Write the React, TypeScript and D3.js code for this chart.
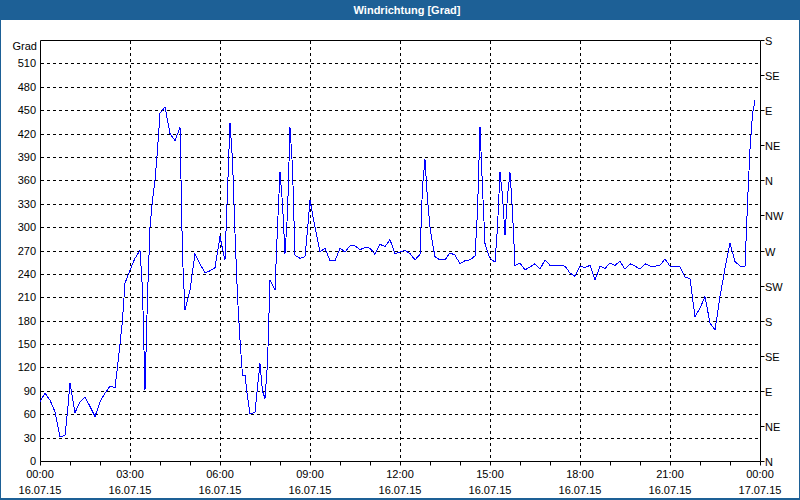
import * as d3 from "d3"
import { useEffect, useRef } from "react"

const FRAME_BLUE = "#1d6096"
const LINE_BLUE = "#0000ff"
const FONT = "'Liberation Sans', Arial, sans-serif"
const W = 800
const H = 500
const margin = { top: 40, right: 40, bottom: 39, left: 40 }

// minutes since 16.07.15 00:00
const times = [
  0, 10, 20, 30, 40, 50, 55, 60, 70, 80, 90, 100, 110, 120, 130, 140, 150, 155, 160, 165,
  170, 180, 190, 200, 205, 210, 215, 220, 225, 230, 235, 240, 250, 260, 270, 280, 285, 290, 300, 310,
  320, 330, 340, 350, 360, 365, 370, 375, 380, 385, 390, 395, 400, 405, 410, 415, 420, 430, 435, 440,
  445, 450, 455, 460, 470, 475, 480, 485, 490, 495, 500, 505, 510, 520, 530, 535, 540, 545, 550, 560,
  570, 580, 590, 600, 610, 620, 630, 640, 650, 660, 670, 680, 690, 700, 710, 720, 730, 740, 750, 760,
  765, 770, 775, 780, 785, 790, 800, 810, 820, 830, 840, 850, 860, 870, 875, 880, 885, 890, 895, 900,
  910, 915, 920, 925, 930, 935, 940, 945, 950, 960, 970, 980, 990, 1000, 1010, 1020, 1030, 1040, 1050, 1060,
  1070, 1080, 1090, 1100, 1110, 1120, 1130, 1140, 1150, 1160, 1170, 1180, 1190, 1200, 1210, 1220, 1230, 1240, 1250, 1260,
  1270, 1280, 1290, 1300, 1310, 1320, 1330, 1340, 1350, 1360, 1370, 1380, 1390, 1400, 1410, 1415, 1420, 1425, 1430,
]

const direction = [
  76, 87, 78, 63, 31, 33, 63, 100, 62, 76, 82, 70, 57, 76, 87, 96, 94, 121, 150, 181,
  228, 245, 260, 270, 219, 91, 211, 300, 335, 360, 399, 446, 454, 420, 411, 428, 262, 194, 219, 266,
  253, 241, 244, 248, 288, 272, 258, 347, 434, 386, 292, 211, 155, 110, 110, 82, 61, 62, 95, 125,
  90, 80, 125, 232, 219, 300, 371, 330, 266, 317, 428, 377, 264, 260, 262, 296, 335, 317, 300, 268,
  273, 257, 257, 273, 268, 276, 276, 271, 274, 273, 265, 278, 275, 284, 266, 268, 270, 266, 258, 265,
  352, 387, 335, 300, 279, 262, 258, 258, 267, 264, 253, 257, 258, 263, 320, 429, 350, 279, 268, 260,
  255, 300, 371, 340, 290, 340, 370, 320, 251, 254, 245, 249, 253, 246, 258, 251, 251, 251, 250, 241,
  237, 250, 248, 251, 232, 250, 247, 254, 251, 256, 246, 253, 250, 246, 253, 250, 250, 251, 259, 250,
  250, 249, 236, 234, 185, 196, 211, 177, 168, 211, 247, 279, 256, 250, 249, 330, 400, 445, 463,
]

const hourLabels = ["00:00", "03:00", "06:00", "09:00", "12:00", "15:00", "18:00", "21:00", "00:00"]
const dateLabels = ["16.07.15", "16.07.15", "16.07.15", "16.07.15", "16.07.15", "16.07.15", "16.07.15", "16.07.15", "17.07.15"]
const compassLabels = ["N", "NE", "E", "SE", "S", "SW", "W", "NW", "N", "NE", "E", "SE", "S"]

export default function App() {
  const svgRef = useRef<SVGSVGElement | null>(null)

  useEffect(() => {
    if (!svgRef.current) return
    const svg = d3.select(svgRef.current)
    svg.selectAll("*").remove()

    const x0 = margin.left
    const x1 = W - margin.right
    const y0 = H - margin.bottom
    const y1 = margin.top

    const x = d3.scaleLinear().domain([0, 1440]).range([x0, x1])
    const y = d3.scaleLinear().domain([0, 540]).range([y0, y1])

    // background + frame
    svg.append("rect").attr("width", W).attr("height", H).attr("fill", "#fff")
    svg.append("rect").attr("width", W).attr("height", 20).attr("fill", FRAME_BLUE)
    svg
      .append("rect")
      .attr("x", 0.5)
      .attr("y", 0.5)
      .attr("width", W - 1)
      .attr("height", H - 1.5)
      .attr("fill", "none")
      .attr("stroke", FRAME_BLUE)
    svg.append("rect").attr("x", 0).attr("y", H - 2).attr("width", W).attr("height", 2).attr("fill", FRAME_BLUE)

    svg
      .append("text")
      .attr("x", 407)
      .attr("y", 14)
      .attr("text-anchor", "middle")
      .style("font-family", FONT)
      .style("font-size", "11px")
      .style("font-weight", "bold")
      .style("fill", "#fff")
      .text("Windrichtung [Grad]")

    const crisp = (v: number) => Math.round(v) + 0.5

    // horizontal grid
    const yTicks = d3.range(30, 540, 30)
    svg
      .append("g")
      .selectAll("line")
      .data(yTicks)
      .enter()
      .append("line")
      .attr("x1", x0 + 1)
      .attr("x2", x1)
      .attr("y1", (d) => crisp(y(d)))
      .attr("y2", (d) => crisp(y(d)))
      .attr("stroke", "#000")
      .attr("stroke-dasharray", "3,3")

    // vertical grid
    const xMajor = d3.range(0, 1441, 180)
    svg
      .append("g")
      .selectAll("line")
      .data(xMajor.slice(1, -1))
      .enter()
      .append("line")
      .attr("x1", (d) => crisp(x(d)))
      .attr("x2", (d) => crisp(x(d)))
      .attr("y1", y1 + 1)
      .attr("y2", y0)
      .attr("stroke", "#000")
      .attr("stroke-dasharray", "3,3")

    // frame lines of the plot
    svg
      .append("path")
      .attr("d", `M${crisp(x0)},${crisp(y1)}H${crisp(x1)}V${crisp(y0)}H${crisp(x0)}Z`)
      .attr("fill", "none")
      .attr("stroke", "#000")

    // left labels
    const lbl = svg.append("g").style("font-family", FONT).style("font-size", "11px").style("fill", "#000")
    lbl
      .selectAll("text.yl")
      .data(d3.range(0, 540, 30))
      .enter()
      .append("text")
      .attr("x", 36)
      .attr("y", (d) => y(d) + 4)
      .attr("text-anchor", "end")
      .text((d) => String(d))
    lbl.append("text").attr("x", 37).attr("y", 50).attr("text-anchor", "end").text("Grad")

    // right compass axis
    const compassVals = d3.range(0, 541, 45)
    svg
      .append("g")
      .selectAll("line")
      .data(compassVals)
      .enter()
      .append("line")
      .attr("x1", crisp(x1))
      .attr("x2", crisp(x1) + 4)
      .attr("y1", (d) => crisp(y(d)))
      .attr("y2", (d) => crisp(y(d)))
      .attr("stroke", "#000")
    lbl
      .selectAll("text.rl")
      .data(compassVals)
      .enter()
      .append("text")
      .attr("x", x1 + 5)
      .attr("y", (d) => y(d) + 5)
      .text((_, i) => compassLabels[i])

    // bottom ticks every hour
    svg
      .append("g")
      .selectAll("line")
      .data(d3.range(0, 1441, 60))
      .enter()
      .append("line")
      .attr("x1", (d) => crisp(x(d)))
      .attr("x2", (d) => crisp(x(d)))
      .attr("y1", crisp(y0))
      .attr("y2", crisp(y0) + 4)
      .attr("stroke", "#000")

    lbl
      .selectAll("text.xl")
      .data(xMajor)
      .enter()
      .append("text")
      .attr("x", (d) => x(d))
      .attr("y", 478)
      .attr("text-anchor", "middle")
      .text((_, i) => hourLabels[i])
    lbl
      .selectAll("text.dl")
      .data(xMajor)
      .enter()
      .append("text")
      .attr("x", (d) => x(d))
      .attr("y", 494)
      .attr("text-anchor", "middle")
      .text((_, i) => dateLabels[i])

    // data line (aliased like the original)
    const points = times.map((t, i) => [t, direction[i]] as [number, number])
    const line = d3
      .line<[number, number]>()
      .x((d) => x(d[0]))
      .y((d) => y(d[1]))
    svg
      .append("path")
      .datum(points)
      .attr("d", line)
      .attr("fill", "none")
      .attr("stroke", LINE_BLUE)
      .attr("stroke-width", 1)
      .attr("shape-rendering", "crispEdges")
  }, [])

  return (
    <svg
      ref={svgRef}
      width={W}
      height={H}
      style={{ position: "absolute", left: 0, top: 0, display: "block" }}
      xmlns="http://www.w3.org/2000/svg"
    />
  )
}
